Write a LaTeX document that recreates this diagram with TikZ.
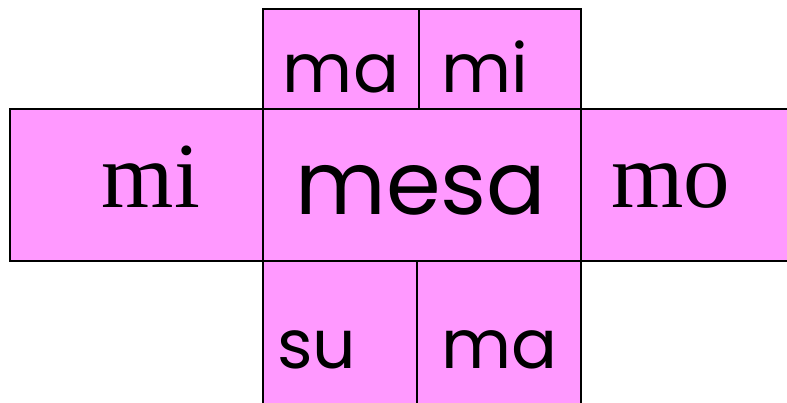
\documentclass[tikz,border=0pt]{standalone}
\usepackage{fontspec}
\setmainfont{Liberation Serif}
\newfontfamily\gothic{Poppins}
\begin{document}
\begin{tikzpicture}[x=1pt,y=-1pt]
  % Base settings
  \tikzset{
    cell/.style={draw, line width=1.8pt, fill=cellpink, rectangle, inner sep=0pt, anchor=north west},
    syl/.style={anchor=base, inner sep=0pt, font=\gothic\fontsize{68}{72}\selectfont},
    word/.style={anchor=base, inner sep=0pt, font=\gothic\fontsize{88}{92}\selectfont},
    serif/.style={anchor=base, inner sep=0pt, font=\fontsize{93}{96}\selectfont}
  }
  \definecolor{cellpink}{HTML}{FF99FF}

  \useasboundingbox (0,0) rectangle (787,403);
  \clip (0,0) rectangle (787,403);

  % --- Top row ---
  \node[cell, minimum width=156pt, minimum height=100pt] (topL) at (262,8) {};
  \node[cell, minimum width=162pt, minimum height=100pt] (topR) at (418,8) {};

  % --- Middle row ---
  \node[cell, minimum width=253pt, minimum height=152pt] (midL) at (9,108) {};
  \node[cell, minimum width=318pt, minimum height=152pt] (midC) at (262,108) {};
  \node[cell, minimum width=230pt, minimum height=152pt] (midR) at (580,108) {};

  % --- Bottom row ---
  \node[cell, minimum width=154pt, minimum height=160pt] (botL) at (262,260) {};
  \node[cell, minimum width=164pt, minimum height=160pt] (botR) at (416,260) {};

  % --- Labels ---
  \node[syl] (topLtxt) at (341,93) {ma};
  \node[syl] (topRtxt) at (485,93) {mi};
  \node[serif] (midLtxt) at (151,208) {mi};
  \node[word] (midCtxt) at (421,215) {mesa};
  \node[serif] (midRtxt) at (671,208) {mo};
  \node[syl] (botLtxt) at (317,368) {su};
  \node[syl] (botRtxt) at (499,368) {ma};

\end{tikzpicture}
\end{document}
